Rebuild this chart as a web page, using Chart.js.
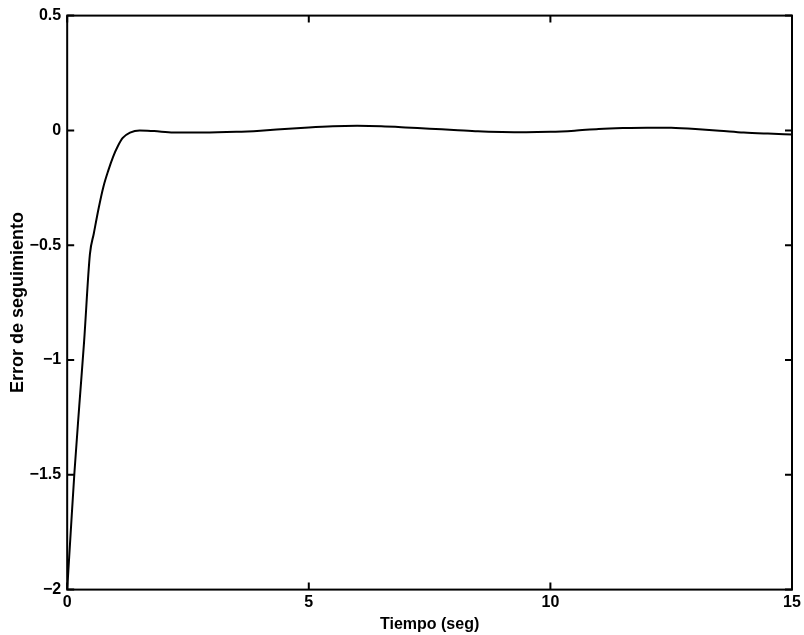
<!DOCTYPE html>
<html>
<head>
<meta charset="utf-8">
<script src="https://cdn.jsdelivr.net/npm/chart.js@4/dist/chart.umd.min.js"></script>
<style>
  html, body { margin: 0; padding: 0; background: #fff; }
  #wrap { width: 804px; height: 635px; position: relative; }
</style>
</head>
<body>
<div id="wrap"><canvas id="c"></canvas></div>
<script>
// Time samples (s)
const tiempo = [0, 0.07, 0.15, 0.25, 0.35, 0.47, 0.55, 0.65, 0.75, 0.85, 0.95, 1.05, 1.15, 1.3, 1.5, 1.8, 2.2, 2.8, 3.5, 4.0, 4.5, 5.0, 5.5, 6.0, 6.5, 7.0, 7.5, 8.0, 8.5, 9.0, 9.5, 10, 10.5, 11, 11.5, 12, 12.5, 13, 13.5, 14, 14.5, 15];
// Tracking error
const errorSeguimiento = [-2, -1.76, -1.49, -1.2, -0.92, -0.54, -0.45, -0.34, -0.245, -0.175, -0.115, -0.068, -0.033, -0.01, 0.0, -0.003, -0.009, -0.009, -0.006, -0.001, 0.006, 0.013, 0.018, 0.02, 0.018, 0.013, 0.007, 0.002, -0.004, -0.007, -0.008, -0.006, -0.001, 0.006, 0.01, 0.012, 0.011, 0.006, -0.001, -0.009, -0.014, -0.018];
// Tick values and labels
const xTickValues = [0, 5, 10, 15];
const xTickLabels = ['0', '5', '10', '15'];
const yTickValues = [-2, -1.5, -1, -0.5, 0, 0.5];
const yTickLabels = ['\u22122', '\u22121.5', '\u22121', '\u22120.5', '0', '0.5'];
const xTitle = 'Tiempo (seg)';
const yTitle = 'Error de seguimiento';

const points = tiempo.map((t, i) => ({ x: t, y: errorSeguimiento[i] }));

const boxPlugin = {
  id: 'boxTicks',
  afterDraw(chart) {
    const { ctx, chartArea: a, scales } = chart;
    ctx.save();
    ctx.strokeStyle = '#000';
    ctx.lineWidth = 2;
    ctx.strokeRect(a.left, a.top, a.right - a.left, a.bottom - a.top);
    const L = 7;
    ctx.beginPath();
    yTickValues.forEach(v => {
      const py = scales.y.getPixelForValue(v);
      ctx.moveTo(a.left, py); ctx.lineTo(a.left + L, py);
      ctx.moveTo(a.right, py); ctx.lineTo(a.right - L, py);
    });
    xTickValues.forEach(v => {
      const px = scales.x.getPixelForValue(v);
      ctx.moveTo(px, a.bottom); ctx.lineTo(px, a.bottom - L);
      ctx.moveTo(px, a.top); ctx.lineTo(px, a.top + L);
    });
    ctx.stroke();
    ctx.restore();
  }
};

const fam = "'Liberation Sans', Arial, sans-serif";
const tickFont = { family: fam, size: 16, weight: 'bold' };

new Chart(document.getElementById('c'), {
  type: 'line',
  data: {
    datasets: [{
      data: points,
      borderColor: '#000',
      borderWidth: 2,
      pointRadius: 0,
      fill: false,
      cubicInterpolationMode: 'monotone'
    }]
  },
  options: {
    responsive: true,
    maintainAspectRatio: false,
    animation: false,
    devicePixelRatio: 1,
    layout: { padding: { left: 7, right: 12, top: 15, bottom: 1 } },
    plugins: { legend: { display: false }, tooltip: { enabled: false } },
    scales: {
      x: {
        type: 'linear',
        min: 0, max: 15,
        afterBuildTicks: s => { s.ticks = xTickValues.map(v => ({ value: v })); },
        ticks: {
          color: '#000', font: tickFont, padding: 3, maxRotation: 0,
          callback: (v) => xTickLabels[xTickValues.indexOf(v)]
        },
        grid: { display: false, drawTicks: false },
        border: { display: false },
        title: { display: true, text: xTitle, color: '#000', font: { family: fam, size: 16, weight: 'bold' }, padding: { top: 0, bottom: 0 } }
      },
      y: {
        type: 'linear',
        min: -2, max: 0.5,
        afterBuildTicks: s => { s.ticks = yTickValues.map(v => ({ value: v })); },
        ticks: {
          color: '#000', font: tickFont, padding: 6,
          callback: (v) => yTickLabels[yTickValues.indexOf(v)]
        },
        grid: { display: false, drawTicks: false },
        border: { display: false },
        title: { display: true, text: yTitle, color: '#000', font: { family: fam, size: 18, weight: 'bold' }, padding: { top: 0, bottom: -5 } }
      }
    }
  },
  plugins: [boxPlugin]
});
</script>
</body>
</html>
